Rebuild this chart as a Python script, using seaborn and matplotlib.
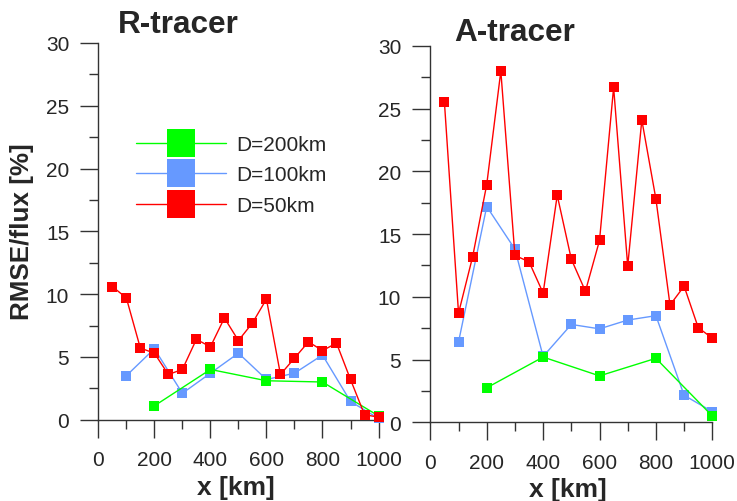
import numpy as np
import matplotlib
matplotlib.use("Agg")
import matplotlib.pyplot as plt
import seaborn as sns
from matplotlib.lines import Line2D
from matplotlib.ticker import MultipleLocator

# x positions [km]
x_50 = [50, 100, 150, 200, 250, 300, 350, 400, 450, 500,
        550, 600, 650, 700, 750, 800, 850, 900, 950, 1000]
x_100 = [100, 200, 300, 400, 500, 600, 700, 800, 900, 1000]
x_200 = [200, 400, 600, 800, 1000]

# R-tracer RMSE/flux [%]
r_50 = [10.6, 9.7, 5.7, 5.3, 3.6, 4.0, 6.4, 5.8, 8.1, 6.3,
        7.7, 9.6, 3.6, 4.9, 6.2, 5.5, 6.1, 3.2, 0.4, 0.2]
r_100 = [3.5, 5.65, 2.1, 3.7, 5.3, 3.2, 3.7, 5.15, 1.45, 0.1]
r_200 = [1.1, 4.0, 3.1, 3.0, 0.3]

# A-tracer RMSE/flux [%]
a_50 = [25.5, 8.7, 13.2, 18.95, 28.0, 13.3, 12.8, 10.3, 18.1, 13.0,
        10.45, 14.5, 26.7, 12.45, 24.1, 17.8, 9.35, 10.85, 7.55, 6.7]
a_100 = [6.4, 17.2, 13.8, 5.25, 7.8, 7.45, 8.15, 8.5, 2.15, 0.85]
a_200 = [2.75, 5.2, 3.7, 5.1, 0.5]

labels = ["D=200km", "D=100km", "D=50km"]
colors = {"D=200km": "#00ff00", "D=100km": "#6699ff", "D=50km": "#ff0000"}

sns.set_style("ticks")
plt.rcParams["font.family"] = ["Liberation Sans", "DejaVu Sans"]

fig = plt.figure(figsize=(7.37, 5.02), dpi=100)
ax1 = fig.add_axes([0.1334, 0.162, 0.3802, 0.7504])
ax2 = fig.add_axes([0.5839, 0.1568, 0.3826, 0.7496])

panels = [
    (ax1, r_50, r_100, r_200),
    (ax2, a_50, a_100, a_200),
]

for ax, y50, y100, y200 in panels:
    series = [
        (x_100, y100, "D=100km", 2),
        (x_200, y200, "D=200km", 3),
        (x_50, y50, "D=50km", 4),
    ]
    for xs, ys, lab, z in series:
        sns.lineplot(x=xs, y=ys, ax=ax, color=colors[lab], marker="s",
                     markersize=7.5, markeredgewidth=0, linewidth=1,
                     clip_on=False, zorder=z, legend=False)
    ax.set_xlim(0, 1000)
    ax.set_ylim(0, 30)
    ax.xaxis.set_major_locator(MultipleLocator(200))
    ax.xaxis.set_minor_locator(MultipleLocator(100))
    ax.yaxis.set_major_locator(MultipleLocator(5))
    ax.yaxis.set_minor_locator(MultipleLocator(2.5))
    ax.tick_params(which="major", direction="out", length=13, width=1,
                   color="#333333", labelsize=15, pad=8)
    ax.tick_params(which="minor", direction="out", length=6.5, width=1,
                   color="#333333")
    ax.tick_params(axis="x", which="major", pad=9)
    for s in ["top", "right"]:
        ax.spines[s].set_visible(False)
    for s in ["left", "bottom"]:
        ax.spines[s].set_color("#333333")
        ax.spines[s].set_linewidth(1)
    ax.set_xlabel("")
    ax.set_ylabel("")

fig.text(178 / 737, 1 - 25 / 502, "R-tracer", fontsize=22.7, fontweight="bold",
         ha="center", va="center")
fig.text(515 / 737, 1 - 33 / 502, "A-tracer", fontsize=22.7, fontweight="bold",
         ha="center", va="center")
fig.text(22 / 737, 1 - 232 / 502, "RMSE/flux [%]", fontsize=18.7,
         fontweight="bold", rotation=90, ha="center", va="center")
fig.text(236 / 737, 1 - 488 / 502, "x [km]", fontsize=19, fontweight="bold",
         ha="center", va="center")
fig.text(568 / 737, 1 - 490 / 502, "x [km]", fontsize=19, fontweight="bold",
         ha="center", va="center")

handles = [Line2D([0], [0], color=colors[l], marker="s", markersize=19.5,
                  markeredgewidth=0, linewidth=1) for l in labels]
ax1.legend(handles, labels, loc="center left",
           bbox_to_anchor=((136 - 98.3) / 280.2, (420.7 - 176) / 376.7),
           frameon=False, fontsize=15, handlelength=4.3, handletextpad=0.5,
           labelspacing=0.55, borderpad=0, borderaxespad=0)

fig.savefig("out.png", dpi=100)
